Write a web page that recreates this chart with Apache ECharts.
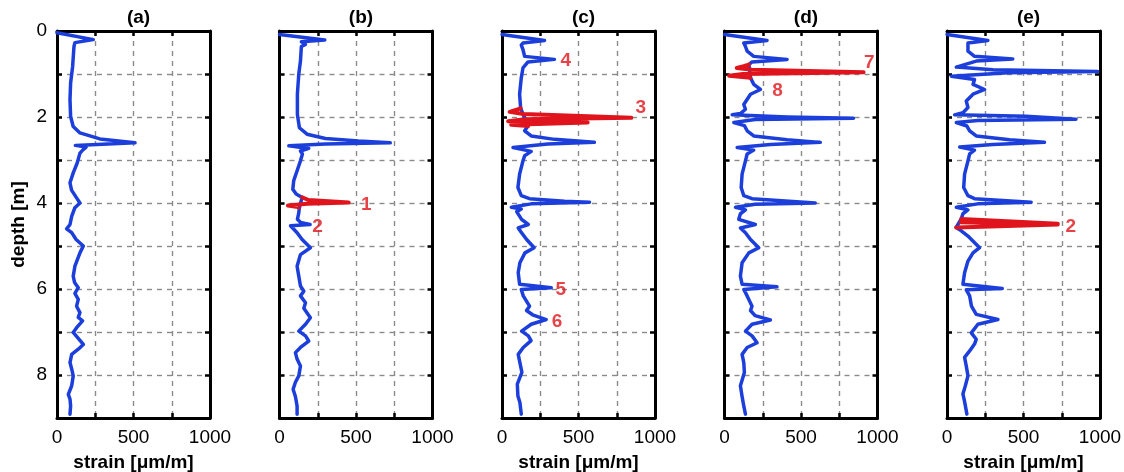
<!DOCTYPE html>
<html>
<head>
<meta charset="utf-8">
<script src="https://cdn.jsdelivr.net/npm/echarts@6/dist/echarts.min.js"></script>
<style>
  html, body { margin: 0; padding: 0; background: #ffffff; }
  #chart { width: 1124px; height: 472px; }
</style>
</head>
<body>
<div id="chart"></div>
<script>
// Panel titles and axis tick labels
const panelTitles = ['(a)', '(b)', '(c)', '(d)', '(e)'];
const strainTicks = [0, 500, 1000];
const depthTicks = [0, 2, 4, 6, 8];

// Strain profiles along depth: [strain (µm/m), depth (m)]
const profileA = [[0,0.04],[237,0.2],[117,0.27],[111,0.36],[102,0.83],[89,1.21],[85,1.6],[89,1.99],[106,2.22],[150,2.37],[280,2.51],[510,2.6],[120,2.66],[190,2.7],[165,2.78],[150,2.84],[132,3.07],[106,3.3],[85,3.53],[95,3.7],[128,3.88],[150,4.0],[117,4.11],[96,4.31],[85,4.5],[63,4.6],[96,4.69],[125,4.85],[172,5.0],[150,5.16],[117,5.47],[106,5.7],[115,5.85],[139,5.97],[117,6.1],[139,6.24],[128,6.4],[150,6.55],[139,6.66],[167,6.74],[128,6.9],[106,7.01],[139,7.15],[172,7.29],[139,7.4],[96,7.52],[85,7.71],[96,7.86],[106,8.02],[96,8.25],[74,8.45],[85,8.56],[89,8.72],[85,8.91]];

const profileB = [[0,0.08],[296,0.21],[143,0.25],[130,0.29],[170,0.31],[143,0.36],[137,0.7],[126,1.0],[117,1.47],[117,1.94],[130,2.25],[180,2.4],[300,2.5],[517,2.56],[724,2.6],[300,2.63],[61,2.67],[191,2.73],[137,2.79],[150,2.86],[137,3.02],[115,3.25],[93,3.48],[87,3.68],[109,3.79],[148,3.87],[130,4.1],[126,4.23],[117,4.38],[137,4.45],[200,4.5],[72,4.53],[115,4.69],[148,4.85],[202,5.04],[137,5.2],[115,5.47],[126,5.7],[137,5.93],[159,6.05],[137,6.16],[170,6.32],[159,6.45],[202,6.67],[170,6.82],[126,6.98],[170,7.09],[191,7.21],[137,7.36],[104,7.48],[115,7.63],[137,7.79],[126,8.02],[104,8.17],[89,8.33],[104,8.5],[115,8.72],[115,8.91]];

const profileC = [[0,0.08],[278,0.22],[137,0.28],[126,0.33],[137,0.43],[148,0.59],[343,0.66],[170,0.72],[137,0.86],[126,1.09],[115,1.47],[122,1.8],[170,2.21],[148,2.32],[191,2.44],[343,2.52],[604,2.59],[300,2.63],[72,2.71],[191,2.8],[148,2.9],[137,3.02],[115,3.33],[104,3.64],[126,3.83],[180,3.9],[409,3.96],[572,3.98],[191,4.02],[61,4.1],[126,4.14],[96,4.2],[128,4.38],[172,4.5],[106,4.58],[128,4.69],[161,4.85],[210,5.04],[150,5.16],[117,5.39],[106,5.62],[115,5.89],[322,5.97],[126,6.01],[139,6.16],[180,6.4],[160,6.5],[200,6.6],[289,6.71],[191,6.82],[128,6.98],[172,7.09],[190,7.2],[139,7.36],[106,7.52],[117,7.71],[130,7.94],[100,8.21],[104,8.49],[117,8.64],[126,8.91]];

const profileD = [[0,0.08],[278,0.22],[126,0.28],[137,0.36],[148,0.47],[191,0.59],[409,0.66],[180,0.72],[159,0.78],[170,1.09],[191,1.24],[235,1.36],[170,1.47],[126,1.71],[137,1.82],[104,1.92],[50,1.95],[409,2.0],[843,2.03],[200,2.06],[61,2.13],[50,2.16],[130,2.2],[148,2.32],[191,2.44],[409,2.53],[626,2.59],[300,2.64],[83,2.71],[191,2.77],[148,2.86],[137,3.02],[115,3.33],[109,3.64],[126,3.83],[180,3.9],[593,4.0],[200,4.03],[72,4.1],[137,4.16],[104,4.25],[93,4.38],[202,4.5],[104,4.58],[137,4.69],[170,4.85],[224,5.04],[159,5.16],[115,5.39],[104,5.7],[115,5.89],[343,5.95],[126,6.01],[148,6.16],[180,6.4],[170,6.5],[200,6.62],[300,6.72],[180,6.82],[137,6.98],[180,7.09],[213,7.25],[148,7.36],[115,7.52],[126,7.71],[130,7.94],[104,8.25],[115,8.5],[126,8.72],[137,8.91]];

const profileE = [[0,0.08],[267,0.22],[137,0.28],[137,0.47],[180,0.59],[430,0.65],[191,0.7],[61,0.84],[300,0.9],[985,0.94],[400,0.97],[28,1.05],[180,1.13],[170,1.24],[246,1.36],[170,1.47],[126,1.63],[137,1.78],[104,1.9],[50,1.95],[517,1.98],[843,2.05],[200,2.08],[61,2.13],[55,2.17],[130,2.21],[148,2.32],[191,2.44],[409,2.53],[637,2.59],[300,2.64],[83,2.7],[180,2.77],[148,2.86],[137,3.02],[115,3.33],[109,3.64],[137,3.83],[180,3.9],[550,3.98],[200,4.02],[61,4.1],[137,4.16],[104,4.25],[93,4.37],[60,4.57],[83,4.62],[137,4.77],[213,5.04],[170,5.16],[137,5.35],[115,5.62],[104,5.89],[361,5.99],[126,6.02],[148,6.16],[160,6.4],[191,6.59],[333,6.71],[202,6.82],[159,7.02],[191,7.17],[180,7.28],[148,7.44],[115,7.59],[126,7.79],[137,8.02],[120,8.25],[104,8.44],[115,8.62],[130,8.91]];

// Highlighted strain peaks: [strain (µm/m), depth (m)]
const peakB = [[148,3.87],[190,3.93],[452,3.99],[180,4.02],[55,4.06],[130,4.1]];
const peakC = [[122,1.8],[50,1.88],[140,1.93],[845,2.02],[150,2.05],[40,2.1],[560,2.13],[60,2.18],[170,2.21]];
const peakD = [[159,0.78],[126,0.82],[80,0.86],[180,0.9],[909,0.96],[120,1.0],[30,1.04],[170,1.09]];
const peakE = [[93,4.37],[724,4.48],[90,4.45],[724,4.5],[60,4.57]];

// Numbered markers: [panel, label, strain, depth]
const markers = [
  [1, '1', 567, 4.04], [1, '2', 248, 4.55],
  [2, '4', 417, 0.7], [2, '3', 907, 1.79], [2, '5', 385, 6.01], [2, '6', 359, 6.77],
  [3, '7', 946, 0.74], [3, '8', 346, 1.39],
  [4, '2', 809, 4.55]
];

const profiles = [profileA, profileB, profileC, profileD, profileE];
const peaks = [[], [peakB], [peakC], [peakD], [peakE]];
const showStrainName = [true, false, true, false, true];

const FONT = '"Liberation Sans", Arial, sans-serif';
const BLUE = '#1c3fdc';
const RED = '#e0141c';
const GRID_LEFT = 57, GRID_STEP = 222.5, GRID_TOP = 31, GRID_W = 153, GRID_H = 387;

const frameLine = { show: true, onZero: false, lineStyle: { color: '#000', width: 3 } };
const innerTick = { show: true, inside: true, length: 5, lineStyle: { color: '#000', width: 2.5 } };
const dashed = { show: true, lineStyle: { color: '#8a8a8a', width: 1.4, type: [5, 5] } };

const grid = [], xAxis = [], yAxis = [], series = [], title = [];

panelTitles.forEach((t, i) => {
  const left = GRID_LEFT + GRID_STEP * i;
  grid.push({
    left: left, top: GRID_TOP, width: GRID_W, height: GRID_H,
    containLabel: false, outerBoundsMode: 'none'
  });
  title.push({
    text: t, left: left + GRID_W / 2, top: 3, textAlign: 'center',
    textStyle: { fontFamily: FONT, fontWeight: 'bold', fontSize: 19, color: '#000' }
  });

  xAxis.push({
    type: 'value', gridIndex: i, min: 0, max: 1000, interval: 250, position: 'bottom',
    axisLine: frameLine, axisTick: innerTick, splitLine: dashed,
    axisLabel: {
      show: true, showMinLabel: true, showMaxLabel: true, margin: 10,
      fontFamily: FONT, fontSize: 19, color: '#000',
      formatter: v => strainTicks.includes(v) ? String(v) : ''
    },
    name: showStrainName[i] ? 'strain [μm/m]' : '', nameLocation: 'middle', nameGap: 35,
    nameTextStyle: { fontFamily: FONT, fontWeight: 'bold', fontSize: 19, color: '#000' }
  });
  xAxis.push({
    type: 'value', gridIndex: i, min: 0, max: 1000, interval: 250, position: 'top',
    axisLine: frameLine, axisTick: innerTick, splitLine: { show: false }, axisLabel: { show: false }
  });

  yAxis.push({
    type: 'value', gridIndex: i, min: 0, max: 9, interval: 1, inverse: true, position: 'left',
    axisLine: frameLine, axisTick: innerTick, splitLine: dashed,
    axisLabel: {
      show: i === 0, margin: 10, fontFamily: FONT, fontSize: 19, color: '#000',
      formatter: v => depthTicks.includes(v) ? String(v) : ''
    },
    name: i === 0 ? 'depth [m]' : '', nameLocation: 'middle', nameGap: 29, nameRotate: 90,
    nameTextStyle: { fontFamily: FONT, fontWeight: 'bold', fontSize: 19, color: '#000' }
  });
  yAxis.push({
    type: 'value', gridIndex: i, min: 0, max: 9, interval: 1, inverse: true, position: 'right',
    axisLine: frameLine, axisTick: innerTick, splitLine: { show: false }, axisLabel: { show: false }
  });

  series.push({
    type: 'line', xAxisIndex: 2 * i, yAxisIndex: 2 * i, data: profiles[i],
    showSymbol: false, symbol: 'none', z: 3,
    lineStyle: { color: BLUE, width: 3.5, join: 'round', cap: 'round' }
  });
  peaks[i].forEach(p => {
    series.push({
      type: 'line', xAxisIndex: 2 * i, yAxisIndex: 2 * i, data: p,
      showSymbol: false, symbol: 'none', z: 4,
      lineStyle: { color: RED, width: 4, join: 'round', cap: 'round' }
    });
  });
  const own = markers.filter(m => m[0] === i).map(m => [m[2], m[3], m[1]]);
  if (own.length) {
    series.push({
      type: 'scatter', xAxisIndex: 2 * i, yAxisIndex: 2 * i, data: own,
      symbolSize: 1, itemStyle: { color: 'rgba(0,0,0,0)' }, z: 5,
      label: {
        show: true, position: 'inside', formatter: p => p.data[2],
        fontFamily: FONT, fontWeight: 'bold', fontSize: 19, color: RED
      }
    });
  }
});

const chart = echarts.init(document.getElementById('chart'), null, { renderer: 'canvas' });
chart.setOption({
  backgroundColor: '#ffffff',
  animation: false,
  title: title,
  grid: grid,
  xAxis: xAxis,
  yAxis: yAxis,
  series: series
});
</script>
</body>
</html>
